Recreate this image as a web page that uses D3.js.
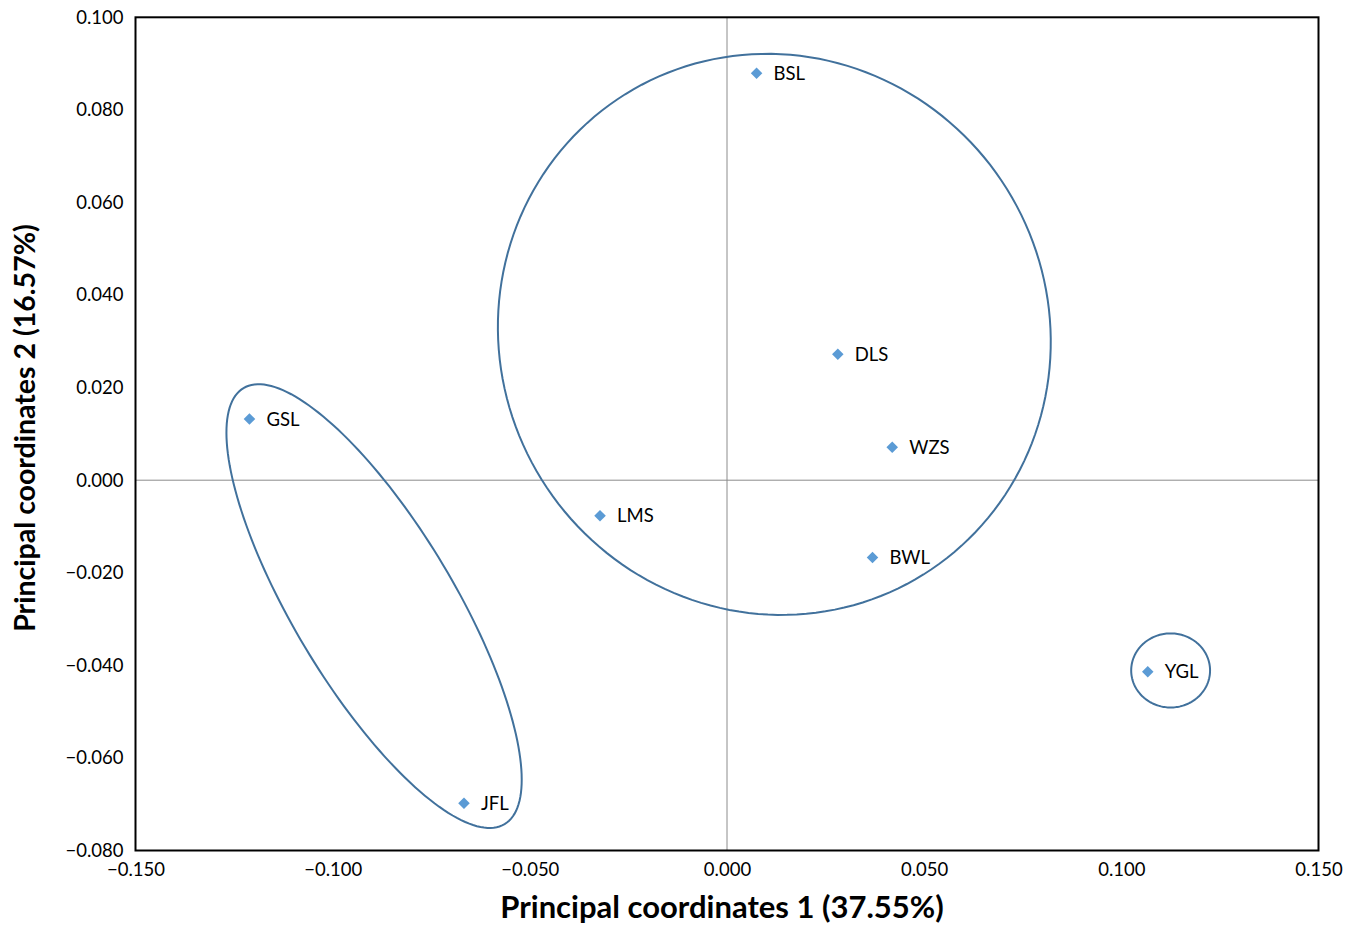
<!DOCTYPE html>
<html>
<head>
<meta charset="utf-8">
<script src="https://cdn.jsdelivr.net/npm/d3@7"></script>
<style>
  body { margin: 0; background: #fff; }
  svg { display: block; }
  text { font-family: Lato, "Liberation Sans", sans-serif; fill: #000; }
</style>
</head>
<body>
<svg id="chart" width="1357" height="928"></svg>
<script>
// ---- data ----
const sites = ["BSL", "DLS", "WZS", "LMS", "BWL", "YGL", "GSL", "JFL"];
const pc1 = [0.0075, 0.0281, 0.0419, -0.0322, 0.0369, 0.1067, -0.1211, -0.0667];
const pc2 = [0.0879, 0.0272, 0.0071, -0.0077, -0.0167, -0.0414, 0.0132, -0.0698];

const xTicks = [-0.150, -0.100, -0.050, 0.000, 0.050, 0.100, 0.150];
const yTicks = [0.100, 0.080, 0.060, 0.040, 0.020, 0.000, -0.020, -0.040, -0.060, -0.080];

// group ellipses in data units: centre, and two half-axis vectors
const groupCx = [0.0120, -0.0895, 0.1125];
const groupCy = [0.0315, -0.0272, -0.0411];
const groupUx = [0.0701, 0.0331, 0.0100];
const groupUy = [-0.0009, -0.0471, 0.0];
const groupVx = [0.0008, -0.0175, 0.0];
const groupVy = [-0.0606, -0.0089, -0.0080];

const xTitle = "Principal coordinates 1 (37.55%)";
const yTitle = "Principal coordinates 2 (16.57%)";

// ---- chart ----
const svg = d3.select("#chart");
const m = { left: 135.5, right: 1318.5, top: 17.3, bottom: 850.5 };

const x = d3.scaleLinear().domain([-0.15, 0.15]).range([m.left, m.right]);
const y = d3.scaleLinear().domain([-0.08, 0.10]).range([m.bottom, m.top]);

const fmt = v => (v < 0 ? "\u2212" : "") + Math.abs(v).toFixed(3);

// zero lines
svg.append("line")
  .attr("x1", x(0)).attr("x2", x(0)).attr("y1", m.top).attr("y2", m.bottom)
  .attr("stroke", "#8c8c8c").attr("stroke-width", 1);
svg.append("line")
  .attr("x1", m.left).attr("x2", m.right).attr("y1", y(0)).attr("y2", y(0))
  .attr("stroke", "#8c8c8c").attr("stroke-width", 1);

// axes (labels only, no tick marks)
const xAxis = d3.axisBottom(x).tickValues(xTicks).tickFormat(fmt).tickSize(0).tickPadding(12);
const yAxis = d3.axisLeft(y).tickValues(yTicks).tickFormat(fmt).tickSize(0).tickPadding(12);

const gx = svg.append("g").attr("transform", `translate(0,${m.bottom})`).call(xAxis);
const gy = svg.append("g").attr("transform", `translate(${m.left},0)`).call(yAxis);
[gx, gy].forEach(g => {
  g.select(".domain").remove();
  g.selectAll("text").attr("font-size", 18.5).attr("fill", "#000")
    .style("font-family", "Lato, 'Liberation Sans', sans-serif");
});

// frame
svg.append("rect")
  .attr("x", m.left).attr("y", m.top)
  .attr("width", m.right - m.left).attr("height", m.bottom - m.top)
  .attr("fill", "none").attr("stroke", "#000").attr("stroke-width", 2);

// ellipses
const line = d3.line().x(d => x(d[0])).y(d => y(d[1])).curve(d3.curveLinearClosed);
groupCx.forEach((cx, i) => {
  const pts = d3.range(0, 360, 2).map(deg => {
    const t = deg * Math.PI / 180;
    return [cx + Math.cos(t) * groupUx[i] + Math.sin(t) * groupVx[i],
            groupCy[i] + Math.cos(t) * groupUy[i] + Math.sin(t) * groupVy[i]];
  });
  svg.append("path").attr("d", line(pts))
    .attr("fill", "none").attr("stroke", "#41719c").attr("stroke-width", 2);
});

// points
const pts = sites.map((s, i) => ({ s, x: pc1[i], y: pc2[i] }));
svg.append("g").selectAll("path").data(pts).join("path")
  .attr("d", d3.symbol().type(d3.symbolDiamond2).size(85))
  .attr("transform", d => `translate(${x(d.x)},${y(d.y)})`)
  .attr("fill", "#5b9bd5");

svg.append("g").selectAll("text").data(pts).join("text")
  .attr("x", d => x(d.x) + 17)
  .attr("y", d => y(d.y))
  .attr("dy", "0.36em")
  .attr("font-size", 18.5)
  .text(d => d.s);

// titles
svg.append("text")
  .attr("x", 722).attr("y", 918)
  .attr("text-anchor", "middle").attr("font-size", 31).attr("font-weight", "bold")
  .text(xTitle);
svg.append("text")
  .attr("transform", "translate(35,428) rotate(-90)")
  .attr("text-anchor", "middle").attr("font-size", 28.5).attr("font-weight", "bold")
  .text(yTitle);
</script>
</body>
</html>
